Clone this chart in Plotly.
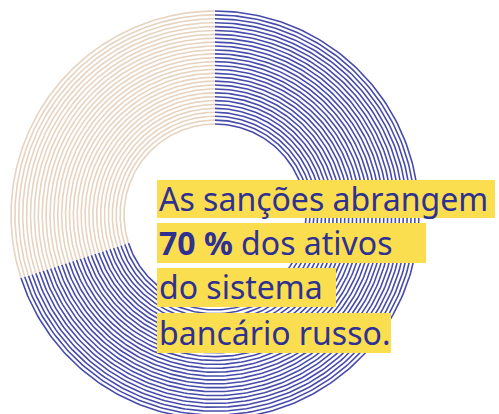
import numpy as np
import plotly.graph_objects as go

# ---- data ----
segment_labels = ["Ativos abrangidos pelas sanções", "Restantes ativos"]
segment_shares = [70, 30]  # percent
text_lines = [
    "As sanções abrangem",
    "<b>70 %</b> dos ativos",
    "do sistema",
    "bancário russo.",
]

# ---- style / layout ----
W, H = 499, 414
CX, CY = 215, 215
R_IN, R_OUT = 91, 204
N_RINGS = 30
seg_colors = ["#474cab", "#e6d3c0"]
TEXT_COLOR = "#2e3192"
HILITE = "#fbdd50"
FONT = "Noto Sans"

fig = go.Figure()

radii = np.linspace(R_IN, R_OUT, N_RINGS)
total = float(sum(segment_shares))
start = 0.0
for label, share, col in zip(segment_labels, segment_shares, seg_colors):
    a0 = start / total * 2 * np.pi
    a1 = (start + share) / total * 2 * np.pi
    start += share
    th = np.linspace(a0, a1, 240)
    xs, ys = [], []
    for r in radii:
        xs.extend(list(CX + r * np.sin(th)) + [None])
        ys.extend(list(CY - r * np.cos(th)) + [None])
    fig.add_trace(go.Scatter(x=xs, y=ys, mode="lines", name=label,
                             line=dict(color=col, width=1.6),
                             hoverinfo="skip", showlegend=False))

# highlight boxes: (x0, x1, y0, y1)
boxes = [(157, 495, 180, 218), (157, 426, 223, 263), (157, 336, 268, 307), (157, 391, 313, 353)]
for (x0, x1, y0, y1) in boxes:
    fig.add_shape(type="rect", x0=x0, x1=x1, y0=y0, y1=y1, xref="x", yref="y",
                  fillcolor=HILITE, line=dict(width=0), layer="above")

for line, (x0, x1, y0, y1) in zip(text_lines, boxes):
    fig.add_annotation(x=x0, y=(y0 + y1) / 2 - 1, xref="x", yref="y",
                       text=line, showarrow=False, xanchor="left", yanchor="middle",
                       font=dict(family=FONT, size=32, color=TEXT_COLOR))

fig.update_layout(
    width=W, height=H, margin=dict(l=0, r=0, t=0, b=0),
    paper_bgcolor="white", plot_bgcolor="white",
    xaxis=dict(range=[0, W], visible=False, fixedrange=True),
    yaxis=dict(range=[H, 0], visible=False, fixedrange=True),
    showlegend=False,
)
fig.write_html("out.html", config={"displayModeBar": False, "staticPlot": True},
               post_script="document.body.style.margin='0';document.body.style.overflow='hidden';")
